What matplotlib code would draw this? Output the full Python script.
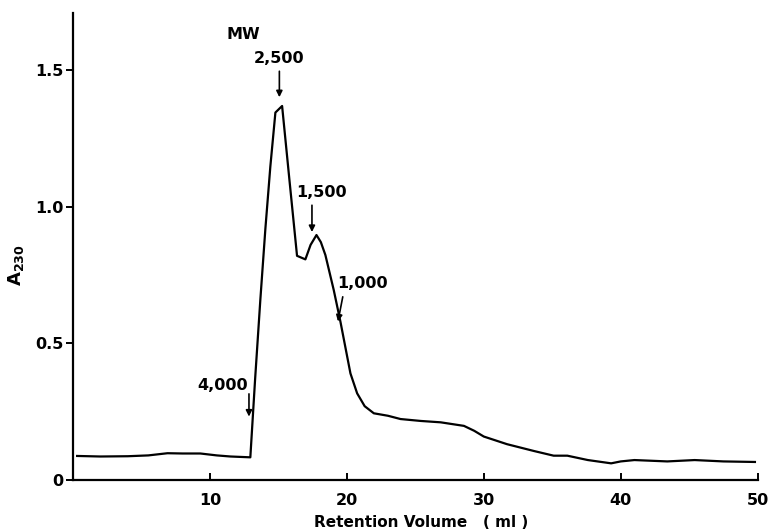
import matplotlib
matplotlib.use("Agg")
import matplotlib.pyplot as plt

plt.rcParams['font.family'] = ['DejaVu Sans']
plt.rcParams['font.weight'] = 'bold'
plt.rcParams['mathtext.fontset'] = 'custom'
plt.rcParams['mathtext.rm'] = 'DejaVu Sans:bold'
plt.rcParams['mathtext.bf'] = 'DejaVu Sans:bold'
plt.rcParams['mathtext.it'] = 'DejaVu Sans:bold:italic'

# Retention volume (ml) and absorbance at 230 nm
volume = [0.3, 2.0, 4.0, 5.5, 6.9, 8.0, 9.3, 10.5, 11.5, 12.95,
          13.3, 13.68, 14.05, 14.41, 14.78, 15.27, 15.8, 16.36, 16.97,
          17.35, 17.78, 18.1, 18.43, 19.04, 19.53, 20.26, 20.75, 21.3, 21.97,
          23.0, 23.92, 25.4, 26.85, 28.55, 29.3, 30.0, 31.7, 33.67, 35.1, 36.1,
          37.6, 39.3, 40.0, 41.0, 43.4, 45.4, 47.5, 49.8]
absorbance = [0.088, 0.086, 0.087, 0.090, 0.098, 0.097, 0.097, 0.090, 0.086, 0.083,
              0.37, 0.659, 0.92, 1.146, 1.344, 1.368, 1.10, 0.82, 0.807,
              0.86, 0.896, 0.87, 0.823, 0.695, 0.579, 0.39, 0.317, 0.27, 0.244,
              0.235, 0.223, 0.216, 0.211, 0.198, 0.18, 0.159, 0.131, 0.106, 0.089, 0.089,
              0.073, 0.061, 0.068, 0.073, 0.068, 0.073, 0.068, 0.066]

# Molecular weight markers: (label, arrow x, arrow tip y)
mw_labels = ["4,000", "2,500", "1,500", "1,000"]
mw_x = [12.85, 15.07, 17.45, 19.35]
mw_tip = [0.232, 1.40, 0.907, 0.580]

fig = plt.figure(figsize=(7.71, 5.29), dpi=100)
ax = fig.add_axes([0.0947, 0.0926, 0.888, 0.8828])

ax.plot(volume, absorbance, color='black', lw=1.6, solid_joinstyle='round')

ax.set_xlim(0, 50)
ax.set_ylim(0, 1.708)
ax.set_xticks([10, 20, 30, 40, 50])
ax.set_yticks([0, 0.5, 1.0, 1.5])
ax.set_yticklabels(["0", "0.5", "1.0", "1.5"])
for s in ['top', 'right']:
    ax.spines[s].set_visible(False)
for s in ['left', 'bottom']:
    ax.spines[s].set_linewidth(1.6)
ax.tick_params(axis='x', direction='in', length=5, width=1.4, labelsize=11.5, pad=9)
ax.tick_params(axis='y', direction='out', length=5, width=1.4, labelsize=11.5, pad=2)
for t in ax.get_xticklabels() + ax.get_yticklabels():
    t.set_fontweight('bold')

ax.set_xlabel("Retention Volume   ( ml )", fontsize=11, fontweight='bold')
ax.xaxis.set_label_coords(0.509, -0.074)
ax.set_ylabel(r"$\mathrm{A}_{\mathit{230}}$", fontsize=13)
ax.yaxis.set_label_coords(-0.068, 0.46)

# annotations
label_y = [0.345, 1.54, 1.05, 0.72]
label_dx = [-1.9, 0.0, 0.7, 1.8]
arrow_top = [0.315, 1.495, 1.005, 0.67]
for lab, x, tip, ly, dx, at in zip(mw_labels, mw_x, mw_tip, label_y, label_dx, arrow_top):
    ax.text(x + dx, ly, lab, ha='center', va='center', fontsize=11.5, fontweight='bold')
    ax.annotate("", xy=(x, tip), xytext=(x + (0.35 if lab == "1,000" else 0), at),
                arrowprops=dict(arrowstyle='-|>', color='black', lw=1.2,
                                mutation_scale=9, shrinkA=0, shrinkB=0))
ax.text(12.45, 1.63, "MW", ha='center', va='center', fontsize=11.5, fontweight='bold')

fig.savefig("out.png", dpi=100)
